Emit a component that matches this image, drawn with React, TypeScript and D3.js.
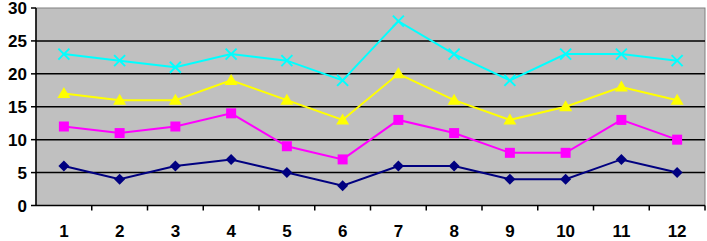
import React from "react";
import * as d3 from "d3";

const categories = ["1", "2", "3", "4", "5", "6", "7", "8", "9", "10", "11", "12"];
const seriesBlue = [6, 4, 6, 7, 5, 3, 6, 6, 4, 4, 7, 5];
const seriesMagenta = [12, 11, 12, 14, 9, 7, 13, 11, 8, 8, 13, 10];
const seriesYellow = [17, 16, 16, 19, 16, 13, 20, 16, 13, 15, 18, 16];
const seriesCyan = [23, 22, 21, 23, 22, 19, 28, 23, 19, 23, 23, 22];
const yTicks = [0, 5, 10, 15, 20, 25, 30];

const series = [
  { values: seriesBlue, color: "#000080", marker: "diamond" },
  { values: seriesMagenta, color: "#FF00FF", marker: "square" },
  { values: seriesYellow, color: "#FFFF00", marker: "triangle" },
  { values: seriesCyan, color: "#00FFFF", marker: "x" },
];

const W = 707, H = 241;
const left = 36, right = 705, top = 8, bottom = 205.5;

export default function App() {
  const x = d3.scaleBand().domain(categories).range([left, right]);
  const y = d3.scaleLinear().domain([0, 30]).range([bottom, top]);
  const cx = (i: number) => (x(categories[i]) as number) + x.bandwidth() / 2;
  const line = d3.line<number>().x((_, i) => cx(i)).y((d) => y(d));
  const font = "Arial, 'Liberation Sans', sans-serif";

  const marker = (type: string, px: number, py: number, color: string, key: string) => {
    if (type === "diamond") {
      const s = 5.5;
      return <path key={key} d={`M${px},${py - s}L${px + s},${py}L${px},${py + s}L${px - s},${py}Z`} fill={color} />;
    }
    if (type === "square") {
      return <rect key={key} x={px - 5} y={py - 5} width={10} height={10} fill={color} />;
    }
    if (type === "triangle") {
      return <path key={key} d={`M${px},${py - 6.5}L${px + 6.5},${py + 4.5}L${px - 6.5},${py + 4.5}Z`} fill={color} />;
    }
    const s = 5.5;
    return (
      <path key={key} d={`M${px - s},${py - s}L${px + s},${py + s}M${px - s},${py + s}L${px + s},${py - s}`} stroke={color} strokeWidth={2} />
    );
  };

  return (
    <svg width={W} height={H} style={{ position: "absolute", left: 0, top: 0 }}>
      <rect x={0} y={0} width={W} height={H} fill="#fff" />
      <rect x={left} y={top} width={right - left} height={bottom - top} fill="#C0C0C0" stroke="#808080" strokeWidth={1} />
      {yTicks.filter((t) => t > 0 && t < 30).map((t) => (
        <line key={"g" + t} x1={left} x2={right} y1={y(t)} y2={y(t)} stroke="#000" strokeWidth={1.5} />
      ))}
      <line x1={left} x2={left} y1={top} y2={bottom} stroke="#000" strokeWidth={1.5} />
      <line x1={left} x2={right} y1={bottom} y2={bottom} stroke="#000" strokeWidth={1.5} />
      {yTicks.map((t) => (
        <g key={"yt" + t}>
          <line x1={left - 5} x2={left} y1={y(t)} y2={y(t)} stroke="#000" strokeWidth={1.5} />
          <text x={27} y={y(t)} dy="0.36em" textAnchor="end" fontFamily={font} fontWeight="bold" fontSize={17}>{t}</text>
        </g>
      ))}
      {categories.map((c, i) => (
        <line key={"xt" + i} x1={(x(c) as number) + x.bandwidth()} x2={(x(c) as number) + x.bandwidth()} y1={bottom} y2={bottom + 5} stroke="#000" strokeWidth={1.5} />
      ))}
      {categories.map((c, i) => (
        <text key={"xl" + i} x={cx(i)} y={237} textAnchor="middle" fontFamily={font} fontWeight="bold" fontSize={17}>{c}</text>
      ))}
      {series.map((s, si) => (
        <g key={"s" + si}>
          <path d={line(s.values) as string} fill="none" stroke={s.color} strokeWidth={2} />
          {s.values.map((v, i) => marker(s.marker, cx(i), y(v), s.color, `m${si}-${i}`))}
        </g>
      ))}
    </svg>
  );
}
